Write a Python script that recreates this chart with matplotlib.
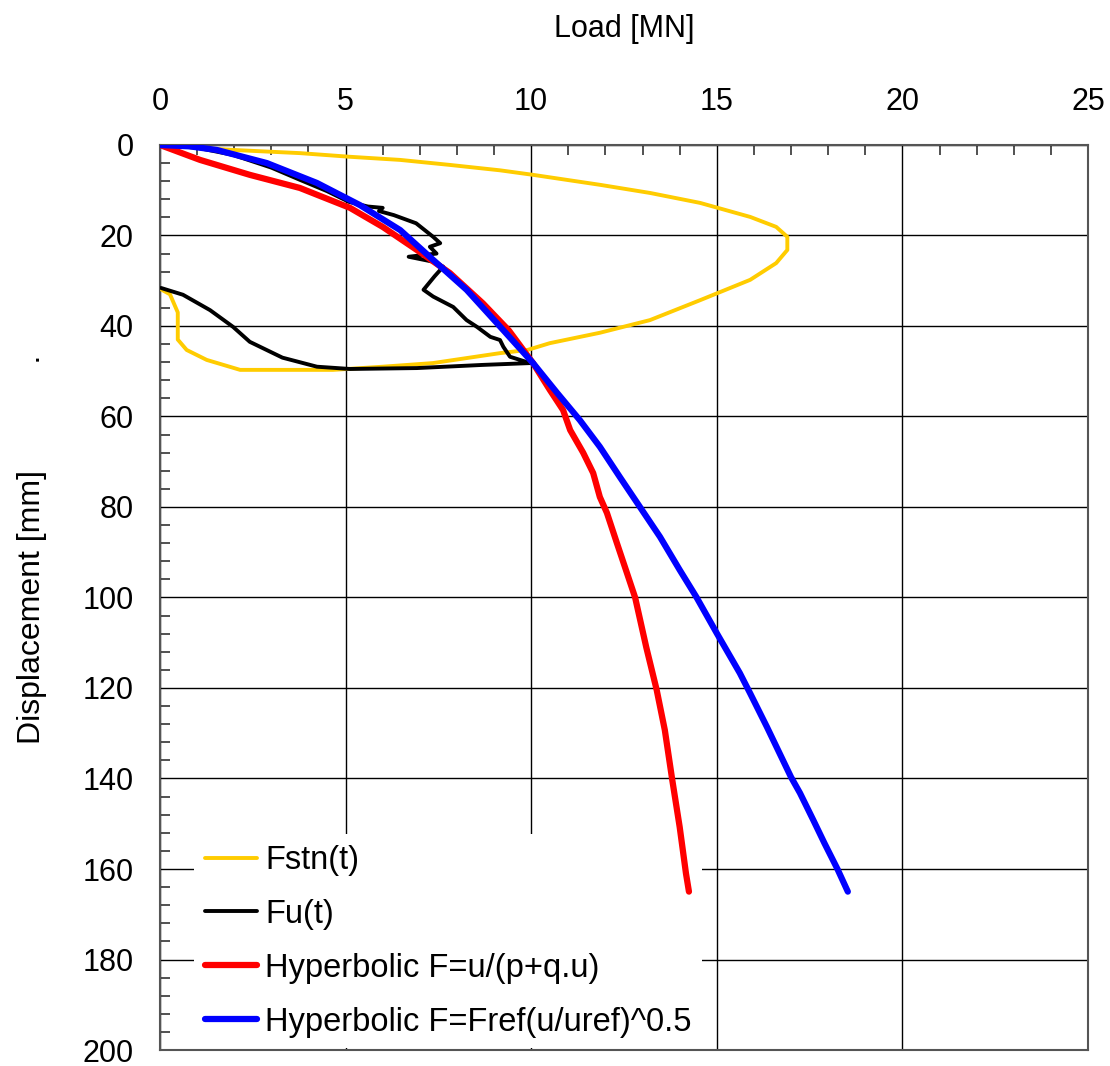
import numpy as np
import matplotlib
matplotlib.use("Agg")
import matplotlib.pyplot as plt
from matplotlib.ticker import MultipleLocator

plt.rcParams['font.family'] = ['Liberation Sans', 'DejaVu Sans']

# load [MN] / displacement [mm] pairs for each record
fstn_F = [0, 1.0, 1.97, 3.77, 5.1, 6.47, 7.8, 9.16, 10.05, 11.85, 13.2, 14.55, 15.9, 16.6,
          16.9, 16.9, 16.6, 15.9, 14.55, 13.2, 11.85, 10.5, 9.9, 9.16, 7.35, 6.0, 4.66,
          2.16, 1.26, 0.72, 0.48, 0.48, 0.27, 0.05]
fstn_u = [0, 0.6, 1.1, 1.8, 2.6, 3.3, 4.4, 5.6, 6.6, 8.8, 10.6, 12.8, 15.9, 18.1,
          20.3, 23.2, 26.1, 29.8, 34.3, 38.7, 41.5, 43.8, 45.3, 46.0, 48.2, 49.0, 49.7,
          49.7, 47.5, 45.3, 43.0, 37.0, 33.0, 32.0]

fu_F = [0, 1.0, 1.97, 3.0, 3.77, 4.5, 5.1, 5.6, 6.0, 5.9, 6.3, 6.9, 7.36, 7.55, 7.27,
        7.45, 6.7, 7.36, 7.63, 7.4, 7.1, 7.36, 7.9, 8.26, 8.54, 8.9, 9.16, 9.25, 9.43,
        9.97, 8.7, 6.92, 5.12, 4.23, 3.3, 2.42, 1.97, 1.35, 0.62, 0.03]
fu_u = [0, 0.6, 2.2, 5.0, 7.7, 10.2, 12.6, 13.6, 13.9, 14.6, 15.5, 17.3, 20.3, 21.7, 22.5,
        24.0, 24.7, 25.8, 26.9, 29.0, 32.0, 33.5, 35.8, 38.7, 40.2, 42.4, 43.1, 44.6, 46.8,
        48.2, 48.6, 49.3, 49.5, 49.0, 47.0, 43.5, 40.2, 36.5, 33.1, 31.6]

hyp_F = [0, 1.08, 2.42, 3.77, 5.12, 6.0, 6.92, 7.81, 8.7, 9.4, 10.05, 10.5, 10.86, 11.05,
         11.4, 11.67, 11.85, 12.04, 12.31, 12.58, 12.8, 13.1, 13.38, 13.6, 13.8, 14.0,
         14.17, 14.25]
hyp_u = [0, 3.3, 6.6, 9.5, 13.9, 18.1, 23.2, 28.3, 35.0, 41.0, 48.2, 54.1, 58.6, 63.0,
         68.0, 72.5, 77.8, 81.3, 88.0, 94.6, 100, 111, 120.4, 129.3, 140.3, 150.7,
         161, 165]

pow_F = [0, 0.8, 1.53, 2.88, 4.23, 5.39, 6.47, 7.36, 8.26, 9.07, 10.05, 10.7, 11.31,
         11.85, 12.39, 12.93, 13.47, 14.0, 14.45, 15.0, 15.62, 15.9, 16.35, 17.0, 17.24,
         17.6, 17.9, 18.25, 18.53]
pow_u = [0, 0.3, 1.1, 4.0, 8.4, 13.3, 18.8, 25.4, 32.0, 39.3, 48.2, 54.8, 60.8,
         66.7, 73.4, 80.0, 86.6, 93.9, 99.9, 107.9, 116.7, 121.2, 128.6, 139.7, 143.2,
         149.2, 154.3, 160, 165]

fig = plt.figure(figsize=(11.1, 10.66), dpi=100)
ax = fig.add_axes([0.1441, 0.015, 0.8361, 0.849])

kw = dict(solid_capstyle='round', zorder=3)
ax.plot(fstn_F, fstn_u, color='#FFCC00', lw=2.8, label='Fstn(t)', **kw)
ax.plot(fu_F, fu_u, color='black', lw=2.8, label='Fu(t)', **kw)
ax.plot(hyp_F, hyp_u, color='#FF0000', lw=4.5, label='Hyperbolic F=u/(p+q.u)', **kw)
ax.plot(pow_F, pow_u, color='#0000FF', lw=4.5, label='Hyperbolic F=Fref(u/uref)^0.5', **kw)

ax.set_xlim(0, 25)
ax.set_ylim(200, 0)
ax.xaxis.tick_top()
ax.xaxis.set_label_position('top')
ax.xaxis.set_major_locator(MultipleLocator(5))
ax.xaxis.set_minor_locator(MultipleLocator(1))
ax.yaxis.set_major_locator(MultipleLocator(20))
ax.yaxis.set_minor_locator(MultipleLocator(4))
ax.tick_params(which='both', direction='in', labelsize=22, width=1.2, color='#333333')
ax.tick_params(axis='x', which='both', pad=20, top=True, bottom=False)
ax.tick_params(axis='y', which='both', pad=19, left=True, right=False)
ax.tick_params(which='major', length=0)
ax.tick_params(which='minor', length=7)
ax.grid(True, which='major', color='black', lw=1.0, zorder=1.5)
for s in ax.spines.values():
    s.set_color('#555555')
    s.set_linewidth(1.5)

ax.set_xlabel('Load [MN]', fontsize=22, labelpad=36.5)
ax.set_ylabel('Displacement [mm]            .', fontsize=23)
ax.yaxis.set_label_coords(-0.1215, 0.553)

leg = ax.legend(loc='lower left', bbox_to_anchor=(0.035, 0.0), fontsize=23.5, frameon=True,
                facecolor='white', edgecolor='none', framealpha=1, fancybox=False,
                handlelength=1.6, handletextpad=0.25, labelspacing=0.7, borderpad=0.33,
                borderaxespad=0.05)
leg.set_zorder(2)

fig.savefig('out.png', dpi=100)
